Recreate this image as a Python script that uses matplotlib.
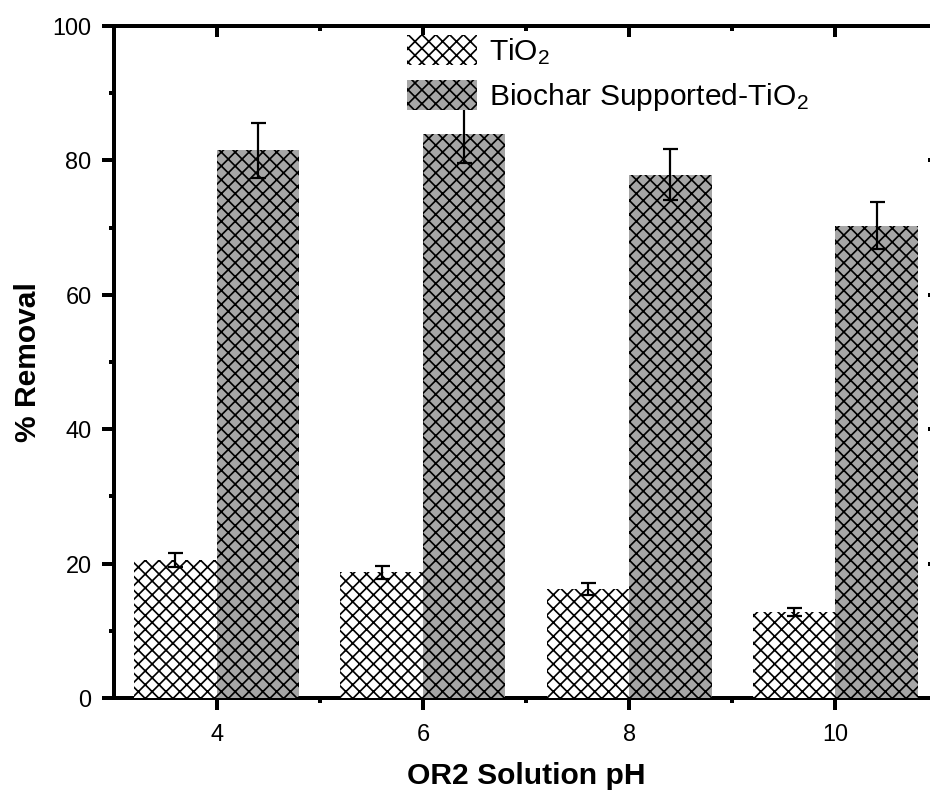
import numpy as np
import matplotlib
matplotlib.use("Agg")
from matplotlib import pyplot as plt

# data
ph = np.array([4, 6, 8, 10])
tio2 = [20.6, 18.7, 16.2, 12.8]
tio2_err = [1.05, 0.95, 0.85, 0.65]
biochar = [81.5, 83.9, 77.9, 70.3]
biochar_err = [4.1, 4.3, 3.8, 3.5]
labels = ["TiO$_2$", "Biochar Supported-TiO$_2$"]

DPI = 83
def pt(px):
    return px * 72.0 / DPI

plt.rcParams["font.family"] = ["Liberation Sans", "DejaVu Sans"]
plt.rcParams["mathtext.default"] = "regular"
plt.rcParams["hatch.linewidth"] = pt(1.7)

fig = plt.figure(figsize=(930 / DPI, 792 / DPI), dpi=DPI)
# right spine sits just past the image edge, as in the reference
ax = fig.add_axes([113.6 / 930, 94 / 792, 825 / 930, 672 / 792])

w = 0.8
gray = "#a6a6a6"
ax.bar(ph - w / 2, tio2, w, color="white", edgecolor="black", hatch="xx",
       linewidth=0, zorder=3, label=labels[0])
ax.bar(ph + w / 2, biochar, w, color=gray, edgecolor="black", hatch="xx",
       linewidth=0, zorder=3, label=labels[1])
ax.errorbar(ph - w / 2, tio2, yerr=tio2_err, fmt="none", ecolor="black",
            elinewidth=pt(2.2), capsize=pt(7.5), capthick=pt(2.2), zorder=4)
ax.errorbar(ph + w / 2, biochar, yerr=biochar_err, fmt="none", ecolor="black",
            elinewidth=pt(2.2), capsize=pt(7.5), capthick=pt(2.2), zorder=4)

ax.set_xlim(3, 11)
ax.set_ylim(0, 100)
ax.set_xticks(ph)
ax.set_xticks([5, 7, 9], minor=True)
ax.set_yticks(np.arange(0, 101, 20))
ax.set_yticks(np.arange(10, 100, 20), minor=True)

for s in ax.spines.values():
    s.set_linewidth(pt(4))

ax.tick_params(axis="both", which="major", direction="out", length=pt(12),
               width=pt(4), labelsize=pt(23.5))
ax.tick_params(axis="both", which="minor", direction="out", length=pt(5),
               width=pt(4))
ax.tick_params(axis="x", which="major", pad=pt(13))
ax.tick_params(axis="y", which="major", pad=pt(10))

top = ax.secondary_xaxis("top")
top.set_xticks(ph)
top.set_xticks([5, 7, 9], minor=True)
top.tick_params(which="major", direction="in", length=pt(11), width=pt(4), labeltop=False)
top.tick_params(which="minor", direction="in", length=pt(5), width=pt(4))
top.spines["top"].set_linewidth(pt(4))

right = ax.secondary_yaxis("right")
right.set_yticks(np.arange(0, 101, 20))
right.set_yticks(np.arange(10, 100, 20), minor=True)
right.tick_params(which="major", direction="in", length=pt(11), width=pt(4), labelright=False)
right.tick_params(which="minor", direction="in", length=pt(5), width=pt(4))
right.spines["right"].set_linewidth(pt(4))

ax.set_xlabel("OR2 Solution pH", fontsize=pt(30), fontweight="bold", labelpad=pt(16))
ax.set_ylabel("% Removal", fontsize=pt(30), fontweight="bold", labelpad=pt(11))

ax.legend(loc="upper left", bbox_to_anchor=(407 / 930, 1 - 35 / 792),
          bbox_transform=fig.transFigure, frameon=False, fontsize=pt(30),
          borderpad=0, borderaxespad=0, handlelength=2.33, handleheight=1.15,
          labelspacing=0.45, handletextpad=0.4)

fig.savefig("out.png", dpi=DPI)
